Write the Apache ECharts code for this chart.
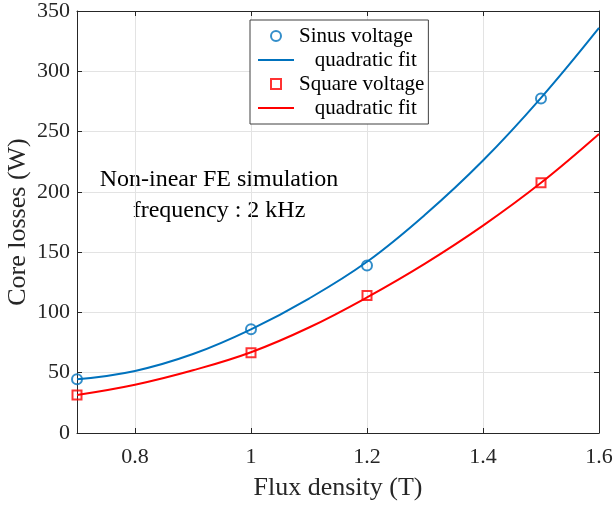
<!DOCTYPE html>
<html>
<head>
<meta charset="utf-8">
<script src="https://cdn.jsdelivr.net/npm/echarts@6/dist/echarts.min.js"></script>
<style>html,body{margin:0;padding:0;background:#fff}#c{width:615px;height:505px}</style>
</head>
<body>
<div id="c"></div>
<script>
// Measured points
var fluxPts = [0.7, 1.0, 1.2, 1.5];
var sinusPts = [44.5, 86, 139, 277.5];
var squarePts = [31.5, 66.5, 114, 207.5];
// Fit curves
var fluxFit = [0.7, 0.8, 0.9, 1.0, 1.1, 1.2, 1.3, 1.4, 1.5, 1.6];
var sinusFit = [44.5, 51.5, 65.5, 86, 111.5, 142, 181, 226, 278, 336];
var squareFit = [31.5, 40, 52, 67, 87.5, 112.5, 140.5, 172, 207.5, 248];
var xTicks = [0.8, 1.0, 1.2, 1.4, 1.6];
var xTickLabels = ['0.8', '1', '1.2', '1.4', '1.6'];

function pairs(xs, ys) { return xs.map(function (x, i) { return [x, ys[i]]; }); }

var FONT = 'Liberation Serif';
var axisCol = '#262626';
var chart = echarts.init(document.getElementById('c'));
chart.setOption({
  animation: false,
  textStyle: { fontFamily: FONT },
  grid: { left: 77, right: 16, top: 11, bottom: 72, containLabel: false, outerBoundsMode: 'none' },
  xAxis: [{
    type: 'value', min: 0.7, max: 1.6,
    name: 'Flux density (T)', nameLocation: 'middle', nameGap: 42, nameMoveOverlap: false,
    nameTextStyle: { fontFamily: FONT, fontSize: 26, color: '#262626' },
    axisLine: { show: true, lineStyle: { color: axisCol, width: 1 } },
    axisTick: { show: true, inside: true, length: 5, customValues: xTicks, lineStyle: { color: axisCol } },
    axisLabel: { customValues: xTicks, fontFamily: FONT, fontSize: 22, color: '#262626', margin: 13,
      formatter: function (v) { var i = xTicks.findIndex(function (t) { return Math.abs(t - v) < 1e-6; }); return i >= 0 ? xTickLabels[i] : ''; } },
    splitLine: { show: true, lineStyle: { color: '#e3e3e3', width: 1 } }
  }, {
    type: 'value', min: 0.7, max: 1.6, position: 'top',
    axisLine: { show: true, onZero: false, lineStyle: { color: axisCol, width: 1 } },
    axisTick: { show: true, inside: true, length: 5, customValues: xTicks, lineStyle: { color: axisCol } },
    axisLabel: { show: false }, splitLine: { show: false }
  }],
  yAxis: [{
    type: 'value', min: 0, max: 350, interval: 50,
    name: 'Core losses (W)', nameLocation: 'middle', nameGap: 46, nameMoveOverlap: false,
    nameTextStyle: { fontFamily: FONT, fontSize: 26, color: '#262626' },
    axisLine: { show: true, lineStyle: { color: axisCol, width: 1 } },
    axisTick: { show: true, inside: true, length: 5, lineStyle: { color: axisCol } },
    axisLabel: { fontFamily: FONT, fontSize: 22, color: '#262626', margin: 7 },
    splitLine: { show: true, lineStyle: { color: '#e3e3e3', width: 1 } }
  }, {
    type: 'value', min: 0, max: 350, interval: 50, position: 'right',
    axisLine: { show: true, onZero: false, lineStyle: { color: axisCol, width: 1 } },
    axisTick: { show: true, inside: true, length: 5, lineStyle: { color: axisCol } },
    axisLabel: { show: false }, splitLine: { show: false }
  }],
  legend: {
    orient: 'vertical', left: 250, top: 20,
    padding: [5, 4, 5, 7], itemGap: 2, itemWidth: 36, itemHeight: 10, symbolKeepAspect: true,
    backgroundColor: '#fff', borderColor: '#404040', borderWidth: 1,
    textStyle: { fontFamily: FONT, fontSize: 21, color: '#000', lineHeight: 22 },
    data: [
      { name: 'Sinus voltage' },
      { name: 'quadratic fit', itemStyle: { color: 'transparent', borderWidth: 0, opacity: 0 } },
      { name: 'Square voltage', icon: 'path://M0,0 L10,0 L10,10 L0,10 Z' },
      { name: 'quadratic fit ', itemStyle: { color: 'transparent', borderWidth: 0, opacity: 0 } }
    ],
    formatter: function (n) { return n.indexOf('quadratic') === 0 ? '   ' + n.trim() : n; }
  },
  graphic: [{
    type: 'text', x: 219, y: 168,
    style: { text: 'Non-inear FE simulation', font: '24px "Liberation Serif"', fill: '#000', align: 'center' }
  }, {
    type: 'text', x: 219, y: 199,
    style: { text: 'frequency : 2 kHz', font: '24px "Liberation Serif"', fill: '#000', align: 'center' }
  }],
  series: [{
    name: 'Sinus voltage', type: 'scatter', data: pairs(fluxPts, sinusPts),
    symbol: 'circle', symbolSize: 10, z: 5,
    itemStyle: { color: 'transparent', borderColor: '#0072BD', borderWidth: 2 }
  }, {
    name: 'quadratic fit', type: 'line', data: pairs(fluxFit, sinusFit), smooth: 0.4,
    showSymbol: false, symbol: 'none', lineStyle: { color: '#0072BD', width: 2 }, itemStyle: { color: '#0072BD' }
  }, {
    name: 'Square voltage', type: 'scatter', data: pairs(fluxPts, squarePts),
    symbol: 'rect', symbolSize: 9, z: 5,
    itemStyle: { color: 'transparent', borderColor: '#FF0000', borderWidth: 2 }
  }, {
    name: 'quadratic fit ', type: 'line', data: pairs(fluxFit, squareFit), smooth: 0.4,
    showSymbol: false, symbol: 'none', lineStyle: { color: '#FF0000', width: 2 }, itemStyle: { color: '#FF0000' }
  }]
});
</script>
</body>
</html>
